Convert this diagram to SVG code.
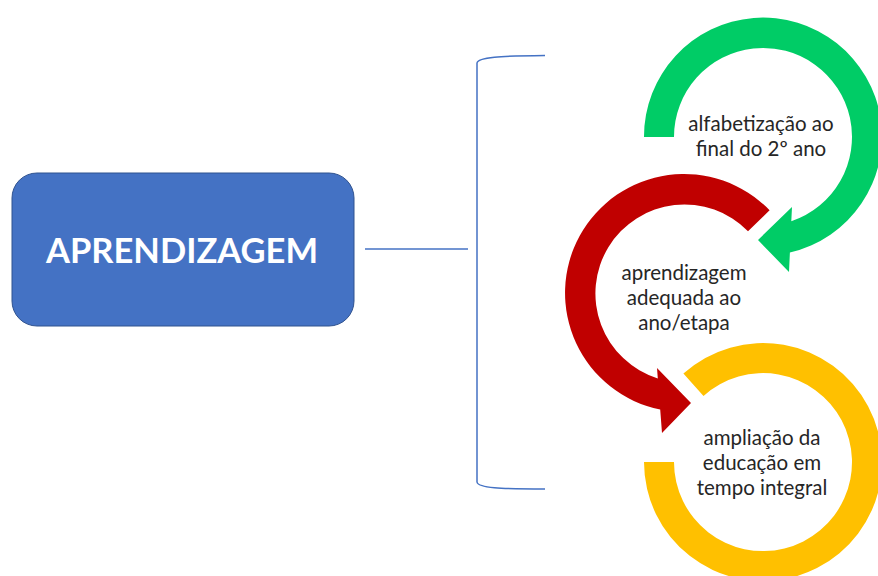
<svg xmlns="http://www.w3.org/2000/svg" width="878" height="576" viewBox="0 0 878 576">
<style>
.ln{fill:none;stroke:#4472C4;stroke-width:1.5}
.t{font-family:Lato,"Liberation Sans",sans-serif;font-size:20.5px;fill:#262626;text-anchor:middle}
.main{font-family:Lato,"Liberation Sans",sans-serif;font-size:34.5px;font-weight:bold;fill:#FFFFFF;text-anchor:middle}
</style>
<rect width="878" height="576" fill="#FFFFFF"/>
<g id="aprendizagem">
<rect x="12" y="173" width="342" height="153" rx="25" ry="25" fill="#4472C4" stroke="#2F528F" stroke-width="1"/>
<text class="main" x="182" y="263">APRENDIZAGEM</text>
</g>
<g id="connectors">
<line class="ln" x1="365" y1="249" x2="468" y2="249"/>
<path class="ln" d="M545,55.5 C500,56 478,57 477,63 V482 C478,488 500,489 545,489"/>
</g>
<g id="alfabetizacao">
<path fill="#00CC66" d="M644,137 A119,119 0 1 1 789.9,252.5 L789,272 L758,240 L792,207 L791.3,221.3 A89,89 0 1 0 674,137 Z"/>
<text class="t" x="761" y="131">alfabetização ao</text>
<text class="t" x="761" y="156">final do 2º ano</text>
</g>
<g id="adequada">
<path fill="#C00000" d="M769.6,210.3 A119,119 0 1 0 660.2,409.6 L662,433 L691,403 L657,368 L657.8,378.4 A89,89 0 1 1 748,231.2 Z"/>
<text class="t" x="684" y="280">aprendizagem</text>
<text class="t" x="684" y="305">adequada ao</text>
<text class="t" x="684" y="330">ano/etapa</text>
</g>
<g id="integral">
<path fill="#FFC000" d="M683.4,373.6 A119,119 0 1 1 644,462 L674,462 A89,89 0 1 0 703.5,395.9 Z"/>
<text class="t" x="762" y="445">ampliação da</text>
<text class="t" x="762" y="470">educação em</text>
<text class="t" x="762" y="495">tempo integral</text>
</g>
</svg>
